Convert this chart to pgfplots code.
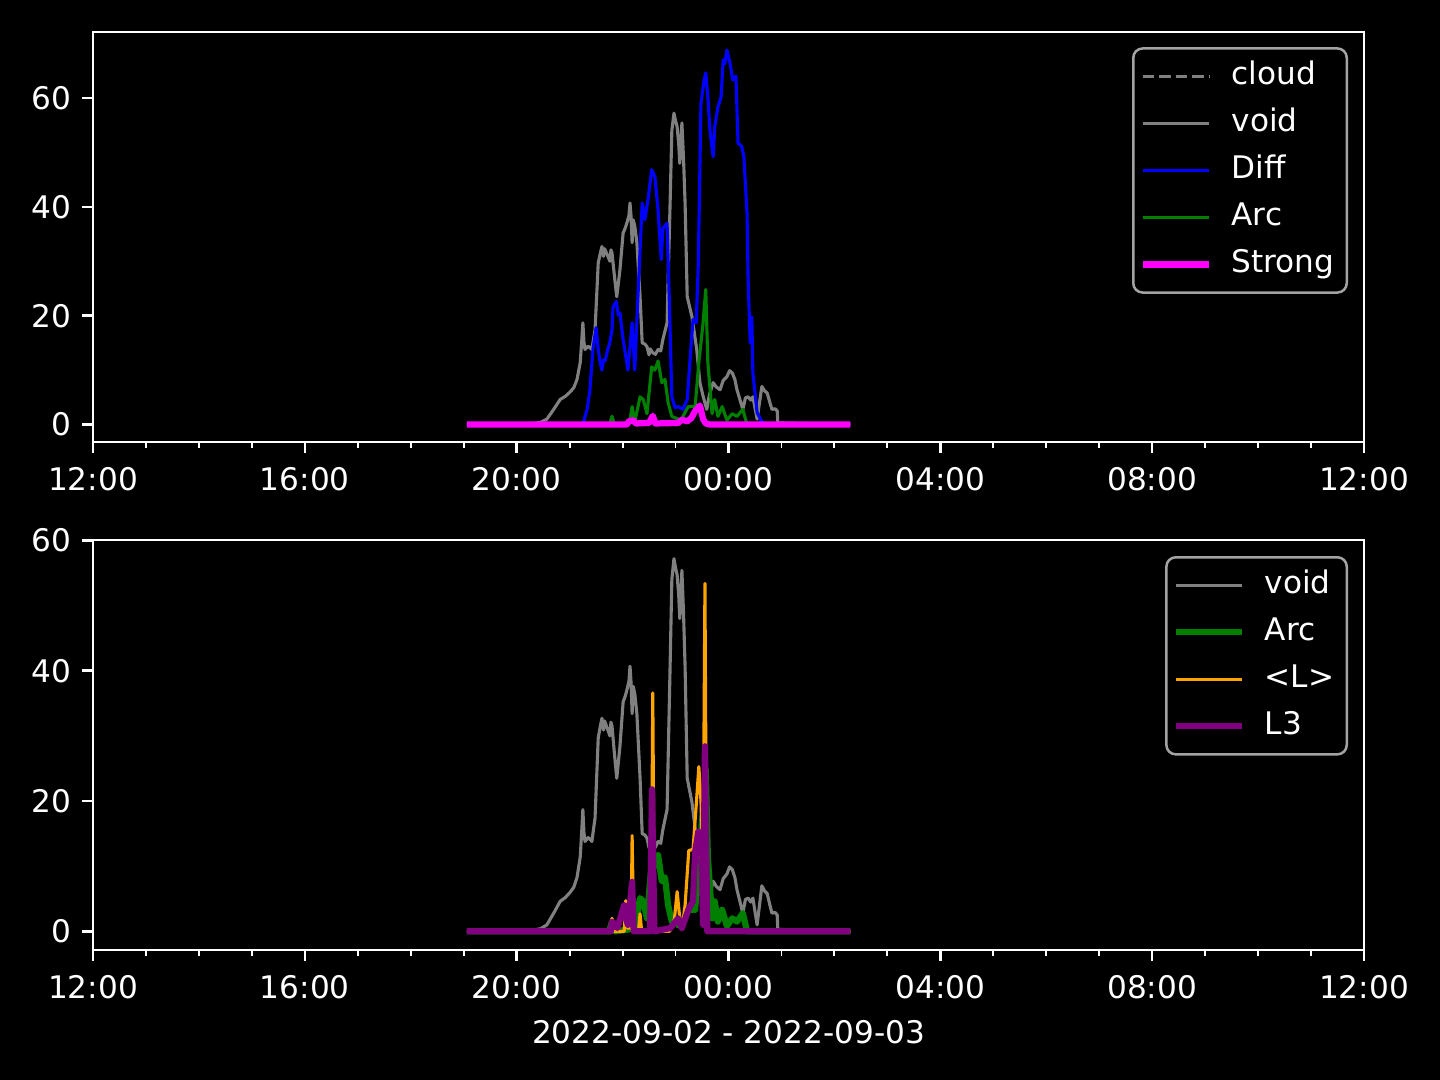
\documentclass[border=0pt]{standalone}
\usepackage{fontspec}
\setmainfont{DejaVu Sans}
\usepackage{pgfplots}
\usepackage{pgfplotstable}
\pgfplotsset{compat=1.18}

\definecolor{mgrey}{HTML}{808080}
\definecolor{mblue}{HTML}{0000FF}
\definecolor{mgreen}{HTML}{008000}
\definecolor{mmagenta}{HTML}{FF00FF}
\definecolor{morange}{HTML}{FFA500}
\definecolor{mpurple}{HTML}{800080}
\definecolor{legedge}{HTML}{A3A3A3}

% x in hours, 12 = 12:00 on 2022-09-02, 36 = 12:00 on 2022-09-03
\pgfplotstableread{
h v
19.06 0
20.31 0.2
20.45 0.4
20.57 1
20.70 2.8
20.82 4.6
20.92 5.2
21.01 6
21.08 6.8
21.14 8.3
21.20 11.4
21.23 15.6
21.25 18.7
21.27 15.2
21.29 13.8
21.35 14.4
21.42 13.8
21.48 17.4
21.54 29.7
21.58 31.5
21.61 32.7
21.64 30.9
21.66 32.3
21.71 31.2
21.76 30
21.78 32.1
21.80 31.5
21.86 26
21.89 23.5
21.95 28.4
22.01 35.2
22.05 36.1
22.08 37
22.12 38.4
22.14 40.7
22.16 38.2
22.18 33.4
22.20 37.6
22.23 36.5
22.27 33.4
22.33 23.5
22.37 15
22.42 14.8
22.46 14.3
22.50 12.8
22.52 13.9
22.57 13.2
22.62 12.9
22.67 13.8
22.72 13.5
22.76 15.6
22.84 18.7
22.90 41.8
22.93 54
22.97 57.2
23.00 55.8
23.03 54.7
23.06 51.5
23.08 48
23.12 55.4
23.15 49
23.18 40.7
23.22 23.5
23.31 19.8
23.40 13.8
23.46 7.7
23.52 5.2
23.59 2.8
23.64 5.5
23.71 7.7
23.77 6.9
23.84 6.4
23.90 8.1
23.97 8.8
24.02 9.9
24.07 9.5
24.12 8.3
24.16 6.4
24.27 2.8
24.32 4.9
24.37 5.1
24.42 4.5
24.46 5.1
24.54 1
24.63 7
24.68 6.2
24.73 5.8
24.78 4.1
24.82 2.8
24.88 2.9
24.92 2.5
24.93 0.3
26.30 0
}\voiddata

\pgfplotstableread{
h v
19.06 0
21.25 0
21.33 2.8
21.38 6
21.44 13.8
21.50 17.8
21.54 13.8
21.58 11.2
21.61 10
21.64 11.9
21.67 11.7
21.72 13.8
21.76 15.1
21.80 17.4
21.82 21.6
21.88 22.6
21.92 20.1
21.95 20.5
22.01 15.6
22.08 11.4
22.10 10
22.18 18.7
22.23 10
22.29 23.5
22.37 40.7
22.42 37.6
22.48 41.3
22.55 46.8
22.61 45.5
22.67 39.4
22.73 30.3
22.76 36
22.84 37
22.88 23.5
22.93 5.1
22.99 3.1
23.05 3.3
23.14 2.8
23.22 4.6
23.27 11.4
23.33 19.3
23.39 18.7
23.43 29.7
23.48 59
23.54 63.3
23.57 64.6
23.61 60.2
23.65 54
23.71 49.2
23.74 54.7
23.80 58.3
23.86 60.2
23.90 67
23.93 66.3
23.97 68.8
24.03 66.3
24.08 63.3
24.14 64
24.18 51.7
24.25 51.1
24.29 49.2
24.35 38.8
24.37 26.6
24.41 15
24.44 19.8
24.46 9.5
24.54 2.2
24.63 0.5
24.73 0
26.30 0
}\diffdata

\pgfplotstableread{
h v
19.06 0
21.75 0
21.80 1.5
21.85 0
22.13 0.3
22.18 3.3
22.23 0.5
22.33 5.1
22.39 4.6
22.46 2
22.55 10.6
22.61 10
22.67 11.7
22.74 7.7
22.80 8.3
22.86 4
22.93 1.5
23.10 0.8
23.24 3.3
23.37 3.3
23.44 11.4
23.52 18.7
23.57 24.8
23.61 11.4
23.69 2
23.74 4.6
23.80 1.5
23.88 3.3
23.97 0.8
24.07 2
24.16 1.5
24.27 2.8
24.35 0
26.30 0
}\arcdata

\pgfplotstableread{
h v
19.06 0
22.08 0
22.12 0.6
22.20 0.8
22.25 0.2
22.50 0.3
22.57 1.6
22.62 0.2
23.05 0.3
23.12 0.9
23.22 0.6
23.30 1.2
23.37 2.5
23.46 3.5
23.52 1
23.57 0.2
23.65 0
26.30 0
}\strongdata

\pgfplotstableread{
h v
19.06 0
21.78 0
21.80 2
21.83 0
22.03 0
22.06 4.7
22.09 0.5
22.16 0.5
22.18 14.7
22.21 0
22.30 0
22.33 2.7
22.36 0
22.54 0
22.57 36.6
22.60 0
22.88 0
22.93 0.5
22.98 2
23.03 6.1
23.08 2
23.14 1.5
23.18 4
23.25 12.4
23.33 12.6
23.39 19.3
23.44 25.3
23.48 20
23.52 9
23.555 53.4
23.59 0.5
23.63 0
26.30 0
}\ldata

\pgfplotstableread{
h v
19.06 0
21.78 0
21.80 1.5
21.86 1
21.90 0.5
22.03 4
22.06 2
22.10 1
22.18 7.6
22.21 0
22.52 0
22.555 21.8
22.60 0
22.90 0.5
23.05 2
23.12 0.5
23.25 3.5
23.33 4.6
23.37 12.2
23.43 15.3
23.48 14
23.52 1
23.555 28.4
23.60 0
26.30 0
}\lthreedata

\pgfplotsset{
  darkax/.style={
    scale only axis, width=5.649in, height=1.822in,
    xmin=12, xmax=36,
    xtick={12,16,...,36},
    xticklabels={12:00,16:00,20:00,00:00,04:00,08:00,12:00},
    minor xtick={13,14,15,17,18,19,21,22,23,25,26,27,29,30,31,33,34,35},
    ytick={0,20,40,60},
    axis line style={white, line width=0.8pt},
    major tick style={white, line width=0.8pt},
    minor tick style={white, line width=0.6pt},
    major tick length=3.5pt, minor tick length=2pt,
    tick align=outside,
    xtick pos=left, ytick pos=left,
    ticklabel style={text=white, font=\fontsize{10}{12}\selectfont},
    xticklabel style={yshift=-1pt},
    /pgf/number format/assume math mode=true,
    every axis plot/.append style={line join=round},
    legend cell align=left,
    legend image code/.code={\draw[##1] (0pt,0pt) -- (21.4pt,0pt); \path (25.6pt,0pt);},
    legend style={anchor=north east, fill=black, draw=legedge, line width=0.8pt,
      rounded corners=3pt, text=white, font=\fontsize{10}{12}\selectfont,
      inner xsep=2pt, inner ysep=2pt, row sep=1.1pt,
      nodes={text height=7.5pt, text depth=2.5pt}},
    axis background/.style={fill=black},
  }
}

\begin{document}
\begin{tikzpicture}
\fill[black] (0,0) rectangle (6.4in,4.8in);
\path[use as bounding box] (0,0) rectangle (6.4in,4.8in);

\begin{axis}[darkax, at={(0.4133in,2.8356in)}, anchor=south west,
  ymin=-3.2, ymax=72.1,
  legend style={at={(0.9874,0.963)}}]
\addlegendimage{mgrey, line width=1pt, dash pattern=on 3.7pt off 1.6pt}
\addlegendentry{cloud}
\addplot[mgrey, line width=1pt] table[x=h, y=v] {\voiddata};
\addlegendentry{void}
\addplot[mblue, line width=1pt] table[x=h, y=v] {\diffdata};
\addlegendentry{Diff}
\addplot[mgreen, line width=1pt] table[x=h, y=v] {\arcdata};
\addlegendentry{Arc}
\addplot[mmagenta, line width=2pt] table[x=h, y=v] {\strongdata};
\addlegendentry{Strong}
\end{axis}

\begin{axis}[darkax, at={(0.4133in,0.5778in)}, anchor=south west,
  ymin=-2.86, ymax=60.06,
  xlabel={2022-09-02 - 2022-09-03},
  xlabel style={text=white, font=\fontsize{10}{12}\selectfont},
  legend style={at={(0.9874,0.961)}}]
\addplot[mgrey, line width=1pt] table[x=h, y=v] {\voiddata};
\addlegendentry{void}
\addplot[mgreen, line width=2pt] table[x=h, y=v] {\arcdata};
\addlegendentry{Arc}
\addplot[morange, line width=1pt] table[x=h, y=v] {\ldata};
\addlegendentry{<L>}
\addplot[mpurple, line width=2pt] table[x=h, y=v] {\lthreedata};
\addlegendentry{L3}
\end{axis}
\end{tikzpicture}
\end{document}
